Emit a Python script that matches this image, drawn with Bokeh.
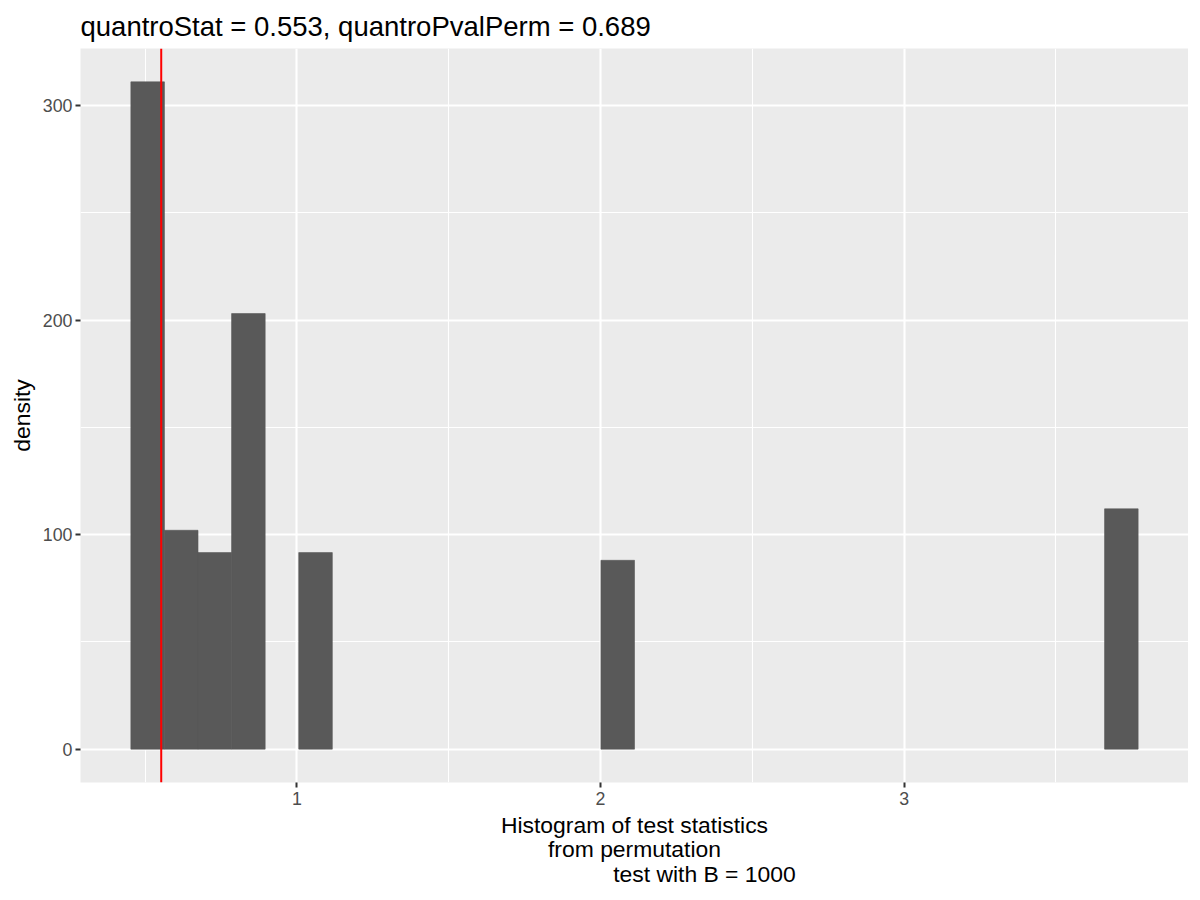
from bokeh.plotting import figure
from bokeh.models import FixedTicker, Span, Range1d, ColumnDataSource
from bokeh.embed import file_html
from bokeh.resources import INLINE

# ---- data ----
bin_left = [0.4530, 0.5636, 0.6742, 0.7848, 1.0060, 2.0014, 3.6604]
bin_right = [0.5636, 0.6742, 0.7848, 0.8954, 1.1166, 2.1120, 3.7710]
density = [311, 102, 91.6, 203, 91.6, 88, 112]
quantro_stat = 0.553
quantro_pval = 0.689
B = 1000
x_ticks = [1, 2, 3]
x_minor = [0.5, 1.5, 2.5, 3.5]
y_ticks = [0, 100, 200, 300]
y_minor = [50, 150, 250]

FONT = "Liberation Sans"

src = ColumnDataSource(dict(left=bin_left, right=bin_right, top=density,
                            bottom=[0] * len(density)))

xmin, xmax = min(bin_left), max(bin_right)
xpad = 0.05 * (xmax - xmin)
ymax = max(density)
ypad = 0.05 * ymax

p = figure(width=1188, height=892, output_backend="svg", toolbar_location=None,
           x_range=Range1d(xmin - xpad, xmax + xpad),
           y_range=Range1d(-ypad, ymax + ypad),
           min_border_left=80, min_border_right=0, min_border_top=48,
           min_border_bottom=110,
           title=f"quantroStat = {quantro_stat}, quantroPvalPerm = {quantro_pval}")

p.background_fill_color = "#EBEBEB"
p.border_fill_color = "white"
p.outline_line_color = None

p.title.text_font = FONT
p.title.text_font_size = "27.5px"
p.title.text_font_style = "normal"
p.title.text_color = "black"
p.title.align = "left"
p.title.vertical_align = "top"
p.title.standoff = 10

p.quad(left="left", right="right", top="top", bottom="bottom", source=src,
       fill_color="#595959", line_color="#595959", line_width=0.6)

p.add_layout(Span(location=quantro_stat, dimension="height",
                  line_color="#FF0000", line_width=2))

p.xaxis.ticker = FixedTicker(ticks=x_ticks, minor_ticks=x_minor)
p.yaxis.ticker = FixedTicker(ticks=y_ticks, minor_ticks=y_minor)

for g in (p.xgrid, p.ygrid):
    g.grid_line_color = "white"
    g.grid_line_width = 2.1
    g.minor_grid_line_color = "white"
    g.minor_grid_line_width = 1.1

pad = "\u00a0" * 22
p.xaxis.axis_label = ("Histogram of test statistics\nfrom permutation\n"
                      + pad + f"test with B = {B}")
p.yaxis.axis_label = "density"

for ax in (p.xaxis, p.yaxis):
    ax.axis_line_color = None
    ax.major_tick_line_color = "#333333"
    ax.major_tick_line_width = 2
    ax.major_tick_out = 5
    ax.major_tick_in = 0
    ax.minor_tick_line_color = None
    ax.major_label_text_font = FONT
    ax.major_label_text_font_size = "17.8px"
    ax.major_label_text_color = "#4D4D4D"
    ax.major_label_standoff = 3
    ax.axis_label_text_font = FONT
    ax.axis_label_text_font_size = "22.9px"
    ax.axis_label_text_font_style = "normal"
    ax.axis_label_text_color = "black"

p.xaxis.major_label_standoff = 4
p.xaxis.axis_label_standoff = 4
p.xaxis.axis_label_text_line_height = 0.96
p.yaxis.axis_label_standoff = 5

open("out.html", "w").write(file_html(p, INLINE))
